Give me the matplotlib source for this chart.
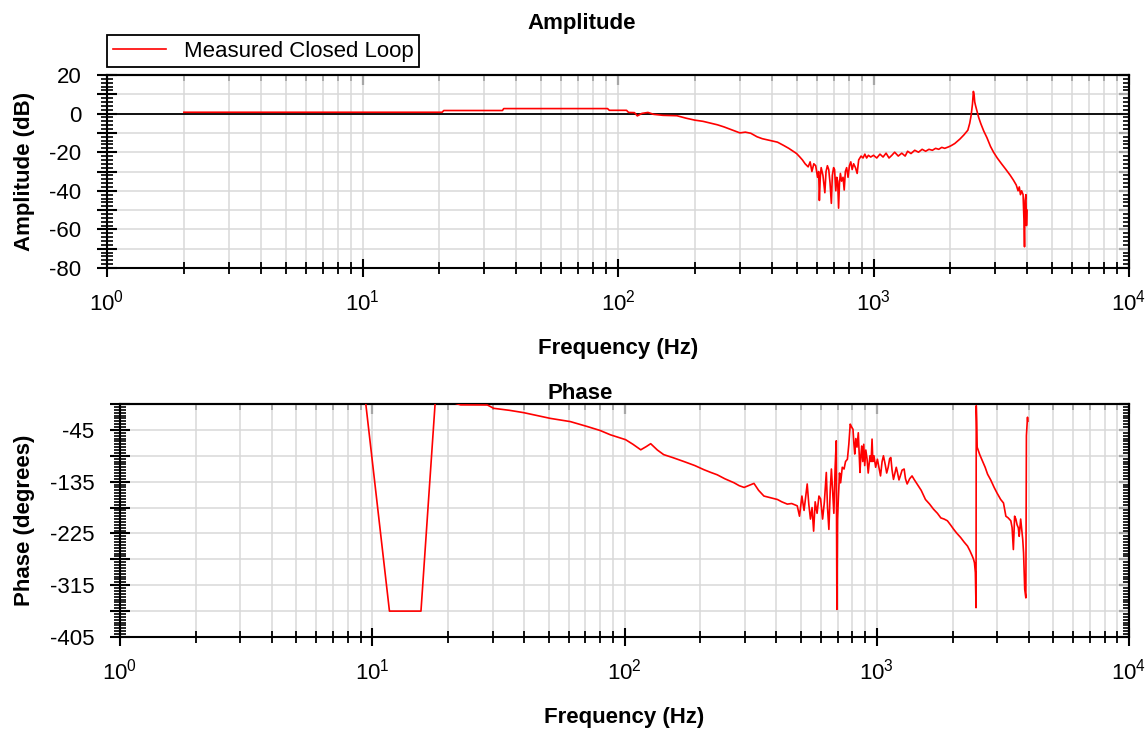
import matplotlib
matplotlib.use("Agg")
import matplotlib.pyplot as plt
from matplotlib.ticker import LogLocator, MultipleLocator, NullFormatter, FuncFormatter

plt.rcParams['font.family'] = ['Liberation Sans', 'DejaVu Sans']
plt.rcParams['mathtext.fontset'] = 'custom'
plt.rcParams['mathtext.rm'] = 'Liberation Sans'
plt.rcParams['mathtext.default'] = 'regular'

# ---------------- data ----------------
amp_freq = [2, 20.5, 20.8, 35.3, 35.7, 91, 92.5, 108, 110, 116, 119, 124, 131, 138, 150, 170, 185,
            200, 215, 228, 245, 260, 280, 300, 315, 331, 350, 367, 390, 421, 445, 466, 485, 500,
            515, 527, 540, 555, 565, 574, 584, 594, 604, 610, 614, 619, 624, 634, 645, 652, 660,
            668, 676, 684, 690, 698, 704, 712, 718, 724, 730, 736, 742, 750, 760, 768, 776, 785,
            795, 805, 815, 825, 836, 850, 863, 875, 894, 910, 925, 940, 955, 975, 1000, 1030,
            1060, 1090, 1120, 1150, 1180, 1210, 1250, 1290, 1330, 1360, 1402, 1450, 1500, 1550,
            1600, 1648, 1700, 1750, 1800, 1850, 1900, 1970, 2020, 2080, 2178, 2260, 2340, 2380,
            2410, 2440, 2460, 2475, 2490, 2510, 2540, 2580, 2630, 2700, 2780, 2870, 2950, 3050,
            3170, 3300, 3430, 3530, 3620, 3680, 3720, 3760, 3800, 3850, 3880, 3900, 3920, 3950,
            3970, 3990]
amp_db = [0.7, 0.7, 1.6, 1.6, 2.6, 2.6, 1.7, 1.7, 0.6, 0.5, -1.2, 0.1, 0.6, -0.4, -0.9, -1.1, -2.4,
          -3.4, -4.0, -4.8, -5.8, -6.9, -8.5, -10.0, -9.6, -10.2, -12.0, -13.0, -13.8, -14.8, -16.5,
          -18.0, -19.5, -20.7, -22.5, -24.0, -26, -27.6, -25, -30, -26, -27, -33, -30, -45, -33, -28,
          -32, -41, -30, -27, -29, -36, -46.5, -32, -28, -29, -40, -33, -35, -49, -36, -31, -35, -33,
          -39.6, -30, -28, -33, -27, -25, -29, -26, -28, -31, -24, -22, -23, -21, -23, -21.6, -22.5,
          -21.6, -23, -21, -22.5, -20.5, -23, -21.6, -20, -22, -20.5, -22, -19.5, -20.7, -19, -20,
          -18.5, -19.5, -18.5, -19, -18, -18.5, -17.5, -18, -17.2, -16.5, -15.5, -13.2, -11, -8.6,
          -5, -1, 5, 11.5, 10, 6, 4, 1.5, -2, -5.2, -9, -12.5, -17, -20, -23, -26, -29, -32, -34.5,
          -37, -40, -38, -42, -40, -42, -55, -69, -45, -42, -58, -50]

ph_freq = [2, 9.4, 11.7, 15.6, 18.0, 20, 22.4, 28.6, 30.3, 35, 39.8, 45, 50.8, 61, 71, 80, 88, 101,
           108, 116, 122, 127, 135, 143, 155, 172, 190, 206, 220, 233, 250, 272, 285, 298, 310, 326,
           340, 357, 380, 404, 420, 442, 460, 484, 494, 505, 515, 530, 538, 546, 554, 562, 570, 580,
           590, 599, 610, 620, 631, 638, 646, 654, 661, 668, 676, 684, 691, 695, 699, 705, 712, 719,
           730, 742, 752, 765, 775, 785, 795, 805, 812, 818, 826, 835, 845, 858, 865, 872, 880, 888,
           896, 905, 915, 925, 940, 950, 958, 965, 975, 990, 1006, 1020, 1035, 1050, 1063, 1080,
           1095, 1110, 1125, 1137, 1150, 1165, 1180, 1195, 1208, 1225, 1240, 1260, 1284, 1300, 1320,
           1350, 1380, 1406, 1450, 1500, 1560, 1620, 1680, 1740, 1795, 1850, 1906, 1960, 2020, 2080,
           2150, 2220, 2290, 2340, 2390, 2420, 2440, 2460, 2475, 2480, 2490, 2500, 2560, 2624, 2690,
           2750, 2830, 2920, 3000, 3100, 3180, 3250, 3320, 3400, 3440, 3480, 3520, 3560, 3600, 3640,
           3670, 3720, 3760, 3790, 3820, 3860, 3900, 3920, 3940, 3960, 3970]
ph_deg = [5, 5, -360, -360, 40, 5, -1.5, -1.7, -7.5, -11, -15, -20, -25, -30.6, -39, -46, -53.6, -62,
          -70, -79.6, -74, -69, -80, -88, -93, -100, -107, -114, -119, -123, -130, -137, -142, -145,
          -142, -138, -150, -160, -163, -166, -170, -174, -173, -177, -195, -160, -185, -139, -175,
          -200, -180, -221, -170, -190, -160, -165, -200, -170, -119, -180, -218, -150, -113, -150,
          -190, -110, -64, -357, -200, -160, -120, -137, -110, -113, -100, -96, -70, -35, -40, -44,
          -70, -87, -60, -75, -50, -119, -90, -73, -100, -70, -107, -80, -95, -120, -90, -100, -61,
          -100, -90, -110, -96, -110, -125, -100, -90, -105, -120, -110, -95, -93, -115, -131, -120,
          -110, -119, -132, -125, -115, -113, -130, -139, -130, -125, -131, -140, -150, -166, -174,
          -183, -190, -198, -200, -203, -210, -218, -225, -232, -240, -247, -255, -264, -270, -276,
          -293, -354, -3, -30, -75, -88, -99, -110, -122, -132, -145, -155, -166, -172, -195, -198,
          -203, -215, -253, -195, -200, -210, -215, -230, -200, -220, -235, -259, -322, -337, -55,
          -40, -23, -30]

series_label = "Measured Closed Loop"
amp_title = "Amplitude"
ph_title = "Phase"
x_label = "Frequency (Hz)"
amp_ylabel = "Amplitude (dB)"
ph_ylabel = "Phase (degrees)"

# ---------------- figure ----------------
W, H = 1146, 730
fig = plt.figure(figsize=(W / 100, H / 100), dpi=100)

FS = 16
GRID = '#d9d9d9'

def px_axes(l, t, r, b):
    return fig.add_axes([l / W, 1 - b / H, (r - l) / W, (b - t) / H])

ax1 = px_axes(107, 75, 1129, 268)
ax2 = px_axes(120, 404, 1129, 637)


def style(ax, ymaj, yminor, ylim, label_every):
    ax.set_xscale('log')
    ax.set_xlim(1, 1e4)
    ax.set_ylim(*ylim)
    ax.xaxis.set_major_locator(LogLocator(base=10, numticks=10))
    ax.xaxis.set_minor_locator(LogLocator(base=10, subs=range(2, 10), numticks=20))
    ax.xaxis.set_minor_formatter(NullFormatter())
    ax.yaxis.set_major_locator(MultipleLocator(ymaj))
    ax.yaxis.set_minor_locator(MultipleLocator(yminor))
    ax.yaxis.set_major_formatter(FuncFormatter(label_every))
    ax.grid(True, which='major', axis='both', color=GRID, lw=1.1, zorder=0)
    ax.grid(True, which='minor', axis='x', color=GRID, lw=1.1, zorder=0)
    ax.set_axisbelow(True)
    for s in ax.spines.values():
        s.set_linewidth(1.5)
        s.set_color('black')
    ax.tick_params(axis='x', which='major', direction='inout', length=13, width=1.5,
                   labelsize=FS, pad=9, top=False, right=False)
    ax.tick_params(axis='x', which='minor', direction='inout', length=8.5, width=1.3,
                   top=False)
    ax.tick_params(axis='y', which='major', direction='inout', length=15, width=1.5,
                   labelsize=FS, pad=11, right=False)
    ax.tick_params(axis='y', which='minor', direction='inout', length=8, width=1.2,
                   right=False)
    # ticks pointing inward on top and right
    sx = ax.secondary_xaxis('top')
    sx.xaxis.set_major_locator(LogLocator(base=10, numticks=10))
    sx.xaxis.set_minor_locator(LogLocator(base=10, subs=range(2, 10), numticks=20))
    sx.xaxis.set_minor_formatter(NullFormatter())
    sx.tick_params(which='major', direction='in', length=7, width=1.5, labeltop=False)
    sx.tick_params(which='minor', direction='in', length=4, width=1.3)
    sy = ax.secondary_yaxis('right')
    sy.yaxis.set_major_locator(MultipleLocator(ymaj))
    sy.yaxis.set_minor_locator(MultipleLocator(yminor))
    sy.tick_params(which='major', direction='in', length=7, width=1.5, labelright=False)
    sy.tick_params(which='minor', direction='in', length=4, width=1.2)
    for s in list(sx.spines.values()) + list(sy.spines.values()):
        s.set_linewidth(1.5)


def lab_amp(v, pos):
    return f"{int(round(v))}" if int(round(v)) % 20 == 0 else ""


def lab_ph(v, pos):
    iv = int(round(v))
    return f"{iv}" if (iv + 45) % 90 == 0 else ""


style(ax1, 10, 2, (-80, 20), lab_amp)
style(ax2, 45, 5, (-405, 0), lab_ph)

ax1.axhline(0, color='black', lw=1.3, zorder=1)
line, = ax1.plot(amp_freq, amp_db, color='#ff0000', lw=1.2, zorder=3, label=series_label)
ax2.plot(ph_freq, ph_deg, color='#ff0000', lw=1.2, zorder=3)

t1 = ax1.set_title(amp_title, fontsize=FS, fontweight='bold', pad=33)
t1.set_x((582 - 107) / 1022)
t2 = ax2.set_title(ph_title, fontsize=FS, fontweight='bold', pad=3)
t2.set_x((580 - 120) / 1009)

for ax, h in ((ax1, 193), (ax2, 233)):
    ax.set_xlabel(x_label, fontsize=FS, fontweight='bold', va='center')
    ax.xaxis.set_label_coords(0.5, -80 / h)

ax1.set_ylabel(amp_ylabel, fontsize=FS, fontweight='bold', va='center')
ax1.yaxis.set_label_coords((25 - 107) / 1022, 0.5)
ax2.set_ylabel(ph_ylabel, fontsize=FS, fontweight='bold', va='center')
ax2.yaxis.set_label_coords((25 - 120) / 1009, 0.5)

leg = fig.legend(handles=[line], loc='upper left', bbox_to_anchor=(107 / W, 1 - 35 / H),
                 borderaxespad=0, fancybox=False, edgecolor='black', framealpha=1,
                 fontsize=FS, handlelength=2.4, borderpad=0.25, handletextpad=0.8)
leg.get_frame().set_linewidth(1.3)

fig.savefig("out.png", dpi=100)
